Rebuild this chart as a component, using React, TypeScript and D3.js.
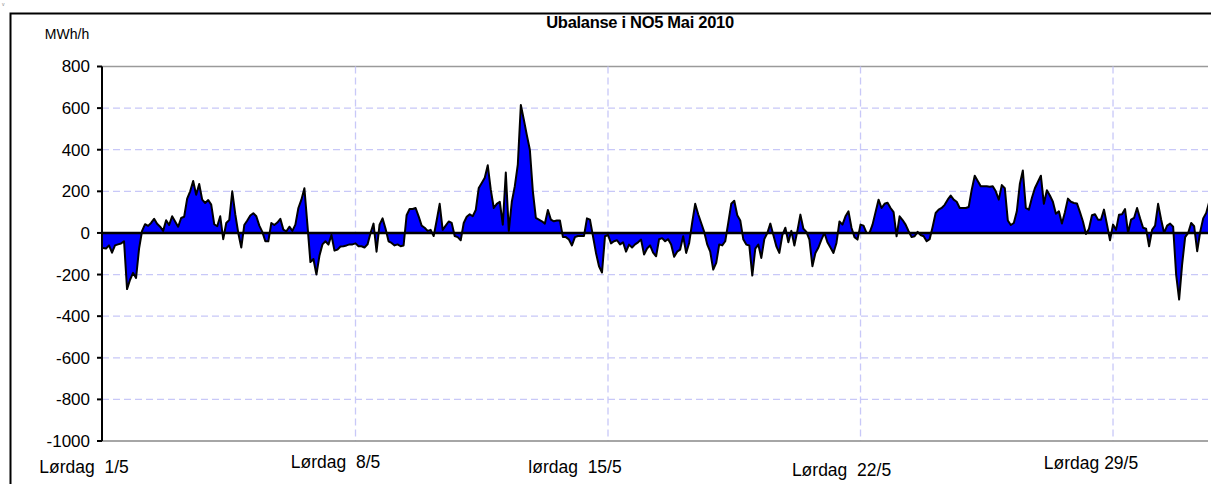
import React from 'react';
import * as d3 from 'd3';

// Ubalanse i NO5, Mai 2010 — MWh/h, sampled every 2 hours
const stepHours = 2;
const week1 = [-72,-75,-60,-95,-60,-55,-51,-40,-270,-225,-192,-216,-75,10,42,34,48,68,44,30,10,61,38,80,55,30,72,78,165,200,250,184,235,160,144,158,136,42,32,80,-30,48,62,200,90,0,-70,38,60,84,95,80,35,5,-40,-40,48,38,50,68,16,8,30,10,40,120,160,215,40,-140,-125,-200,-110,-55,-40,-56,-10,-85,-80,-65,-64,-60,-55,-55];
const week2 = [-50,-64,-64,-70,-55,0,45,-90,40,70,20,-40,-48,-60,-55,-64,-60,85,115,115,120,80,35,25,10,15,-15,60,140,15,35,55,48,-15,-20,-35,48,78,90,80,110,216,240,265,325,208,120,140,150,40,290,10,150,225,330,615,544,470,400,200,72,64,56,45,110,64,56,60,60,-20,-20,-32,-60,-20,-15,-15,-15,70,64,-16,-96,-160,-190,-16];
const week3 = [-10,-50,-40,-35,-55,-45,-90,-56,-70,-55,-45,-32,-104,-75,-60,-95,-112,-30,-25,-40,-30,-56,-115,-90,-80,-16,-96,-48,50,140,90,48,5,-55,-90,-176,-144,-55,-60,-40,48,140,155,85,60,-30,-56,-60,-205,-75,-56,-120,-30,0,45,-10,-64,-96,-10,25,-45,10,-60,10,88,20,5,-32,-160,-96,-70,-32,0,-45,-70,-96,-48,55,40,80,104,25,-20,-32];
const week4 = [40,35,0,0,40,100,160,120,140,145,120,100,-16,80,62,40,8,-20,-16,5,-10,-16,-40,-30,30,96,112,120,135,160,180,160,150,120,120,120,125,208,275,250,224,224,224,222,224,200,160,230,215,60,38,48,104,235,300,120,112,168,215,245,275,140,205,180,150,92,104,45,100,165,150,144,142,100,55,-5,20,85,90,64,64,112,40,-35];
const week5 = [40,15,88,90,115,0,64,72,120,70,25,20,-64,15,35,140,65,0,35,45,30,-200,-320,-150,-20,0,48,32,-88,5,70,96,150];

const yTicks = [800, 600, 400, 200, 0, -200, -400, -600, -800, -1000];
const weekStartHours = [0, 168, 336, 504, 672];
const weekLabels = ['Lørdag  1/5', 'Lørdag  8/5', 'lørdag  15/5', 'Lørdag  22/5', 'Lørdag 29/5'];
const title = 'Ubalanse i NO5 Mai 2010';
const unit = 'MWh/h';

// layout
const W = 1211, H = 484;
const plotL = 102, plotR = 1208, plotT = 66.5, plotB = 441;
const hourPx = 1.503;
const labelDx = [-19, -20, -33, -19, -22];
const labelY = [467, 462, 467, 470, 463];

export default function App() {
  const values = [...week1, ...week2, ...week3, ...week4, ...week5];
  const series = values.map((v, i) => ({ h: i * stepHours, v }));
  const x = d3.scaleLinear().domain([0, 736]).range([103, 103 + 736 * hourPx]);
  const y = d3.scaleLinear().domain([-1000, 800]).range([plotB, plotT]);
  const area = d3.area<{ h: number; v: number }>().x(d => x(d.h)).y0(y(0)).y1(d => y(d.v));
  const line = d3.line<{ h: number; v: number }>().x(d => x(d.h)).y(d => y(d.v));
  const font = 'Arial, "Liberation Sans", sans-serif';

  return (
    <svg width={W} height={H} style={{ position: 'absolute', left: 0, top: 0, display: 'block', background: '#fff' }}>
      <defs>
        <clipPath id="plotClip">
          <rect x={plotL} y={plotT - 10} width={plotR - plotL} height={plotB - plotT + 20} />
        </clipPath>
      </defs>
      <rect x={0} y={0} width={W} height={H} fill="#fff" />
      <text x={2} y={6} fontSize={5} fill="#888" fontFamily={font}>v</text>
      {/* outer frame */}
      <rect x={10.5} y={13.5} width={1400} height={700} fill="none" stroke="#000" strokeWidth={2} />
      {/* horizontal gridlines */}
      {yTicks.filter(t => t !== 0 && t !== -1000).map(t => (
        <line key={'g' + t} x1={plotL} x2={plotR} y1={y(t)} y2={y(t)} stroke={t === 800 ? '#9a9a9a' : '#c8c8f8'} strokeWidth={1.3} strokeDasharray={t === 800 ? undefined : '7,4'} />
      ))}
      {/* vertical gridlines */}
      {weekStartHours.slice(1).map(h => (
        <line key={'v' + h} x1={x(h)} x2={x(h)} y1={plotT} y2={plotB} stroke="#c8c8f8" strokeWidth={1.3} strokeDasharray="7,4" />
      ))}
      <g clipPath="url(#plotClip)">
        <path d={area(series) || ''} fill="#0000ff" />
        <path d={line(series) || ''} fill="none" stroke="#000" strokeWidth={2} strokeLinejoin="round" />
      </g>
      {/* zero line */}
      <line x1={plotL} x2={plotR} y1={y(0)} y2={y(0)} stroke="#000" strokeWidth={2.5} />
      {/* bottom axis */}
      <line x1={plotL} x2={plotR} y1={plotB} y2={plotB} stroke="#888" strokeWidth={1.3} />
      {/* left axis */}
      <line x1={plotL} x2={plotL} y1={plotT} y2={plotB} stroke="#000" strokeWidth={2} />
      {yTicks.map(t => (
        <g key={'t' + t}>
          <line x1={plotL - 5} x2={plotL} y1={y(t)} y2={y(t)} stroke="#000" strokeWidth={2} />
          <text x={plotL - 12} y={y(t)} dy="0.35em" textAnchor="end" fontSize={17} fontFamily={font} fill="#000">{t}</text>
        </g>
      ))}
      <text x={67} y={34} dy="0.35em" textAnchor="middle" fontSize={14} fontFamily={font}>{unit}</text>
      <text x={640} y={22} dy="0.35em" textAnchor="middle" fontSize={16.5} fontWeight="bold" fontFamily={font} letterSpacing={-0.3}>{title}</text>
      {weekLabels.map((l, i) => (
        <text key={l} x={x(weekStartHours[i]) + labelDx[i]} y={labelY[i]} dy="0.35em" textAnchor="middle" fontSize={17.5} fontFamily={font} xmlSpace="preserve" style={{ whiteSpace: 'pre' }}>{l}</text>
      ))}
    </svg>
  );
}
